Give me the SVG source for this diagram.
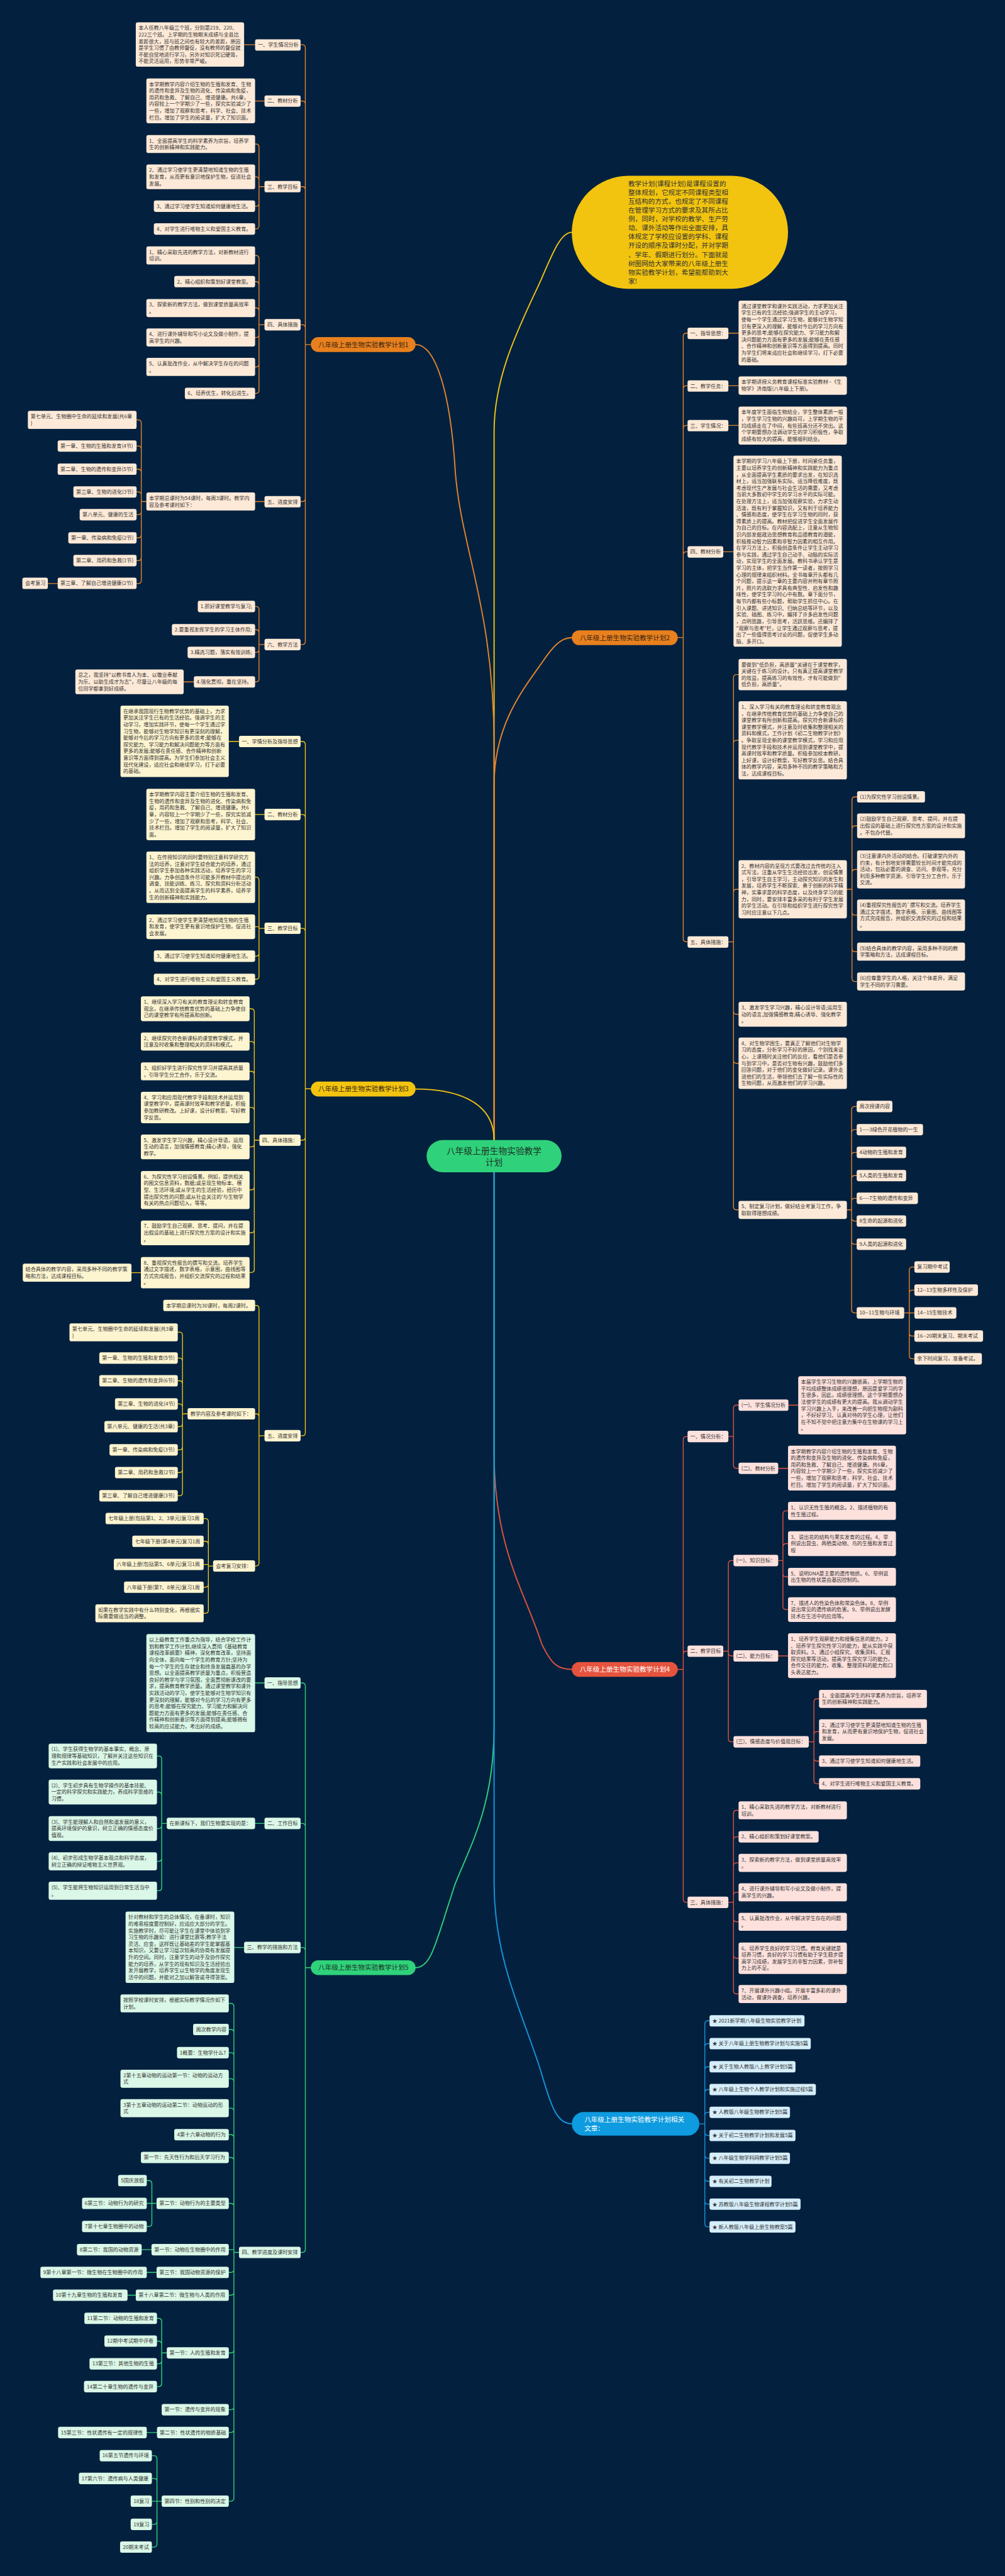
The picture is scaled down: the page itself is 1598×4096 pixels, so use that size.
<svg xmlns="http://www.w3.org/2000/svg" width="1598" height="4096" viewBox="0 0 1598 4096">
<style>
text{font-family:"Noto Sans CJK SC","Noto Sans",sans-serif;font-size:13px;fill:#333}
.lo{fill:#fde9d7}.ly{fill:#fdf4d0}.lg{fill:#daf7e7}.lr{fill:#fde1dd}.lb{fill:#d6eefa}
.c{fill:none;stroke-linecap:round;stroke-linejoin:round}
.co{stroke:#e8862b}.cy{stroke:#f2c512}.cg{stroke:#33d27b}.cr{stroke:#e5533d}.cb{stroke:#1697e0}
.w3{stroke-width:3}.w2{stroke-width:2.2}
.bt{font-size:17px;fill:#3a2613}.wt{font-size:17px;fill:#fff}
</style>
<rect width="1598" height="4096" fill="#03213f"/>
<g transform="scale(0.624)">
<g id="connectors">
<path class="c cy w3" d="M1259,2905L1259,1100C1259,950 1330,820 1380,710C1410,640 1430,592 1457,592"/>
<path class="c co w3" d="M1259,2905L1259,1900C1259,1550 1175,1400 1160,1200C1148,1000 1110,878 1059,878"/>
<path class="c co w3" d="M1259,2905L1259,2000C1259,1850 1330,1760 1380,1690C1410,1645 1430,1625 1457,1625"/>
<path class="c cy w3" d="M1259,2905C1259,2800 1150,2775 1059,2775"/>
<path class="c cr w3" d="M1259,2987L1259,3700C1259,3950 1340,4060 1380,4188C1405,4240 1420,4254 1457,4254"/>
<path class="c cg w3" d="M1259,2987L1259,4400C1259,4600 1200,4700 1160,4800C1110,4950 1100,5014 1059,5014"/>
<path class="c cb w3" d="M1259,2987L1259,4800C1259,5000 1340,5150 1380,5284C1405,5370 1420,5412 1457,5412"/>
<path class="c co w2" d="M792,878H778V122Q778,114 770,114H766M792,878H778V265.5Q778,257.5 770,257.5H766M792,878H778V483.5Q778,475.5 770,475.5H766M792,878H778V835.5Q778,827.5 770,827.5H766M792,878H778V1270Q778,1278 770,1278H766M792,878H778V1634.5Q778,1642.5 770,1642.5H766"/>
<path class="c co w2" d="M650,114H622M674,257.5H650M674,475.5H660V375Q660,367 652,367H650M674,475.5H660V458.5Q660,450.5 652,450.5H650M674,475.5H660V517.5Q660,525.5 652,525.5H650M674,475.5H660V575.5Q660,583.5 652,583.5H650M674,827.5H660V659Q660,651 652,651H650M674,827.5H660V725.5Q660,717.5 652,717.5H650M674,827.5H660V792.5Q660,784.5 652,784.5H650M674,827.5H660V852Q660,860 652,860H650M674,827.5H660V927Q660,935 652,935H650M674,827.5H660V994.5Q660,1002.5 652,1002.5H650M674,1278H650M373,1278H360V1078Q360,1070 352,1070H348M373,1278H360V1144.5Q360,1136.5 352,1136.5H348M373,1278H360V1203.5Q360,1195.5 352,1195.5H348M373,1278H360V1261.5Q360,1253.5 352,1253.5H348M373,1278H360V1303.5Q360,1311.5 352,1311.5H348M373,1278H360V1362.5Q360,1370.5 352,1370.5H348M373,1278H360V1420.5Q360,1428.5 352,1428.5H348M373,1278H360V1479Q360,1487 352,1487H348M147,1487H122M674,1642.5H660V1553.5Q660,1545.5 652,1545.5H650M674,1642.5H660V1612.5Q660,1604.5 652,1604.5H650M674,1642.5H660V1654.5Q660,1662.5 652,1662.5H650M674,1642.5H660V1729.5Q660,1737.5 652,1737.5H650M494,1737.5H468"/>
<path class="c cy w2" d="M792,2774.5H778V1897.5Q778,1889.5 770,1889.5H766M792,2774.5H778V2083.5Q778,2075.5 770,2075.5H766M792,2774.5H778V2373.5Q778,2365.5 770,2365.5H766M792,2774.5H778V2897.5Q778,2905.5 770,2905.5H766M792,2774.5H778V3650.5Q778,3658.5 770,3658.5H766"/>
<path class="c cy w2" d="M609,1889.5H583M674,2075.5H650M674,2365.5H660V2243Q660,2235 652,2235H650M674,2365.5H660V2361.5H650M674,2365.5H660V2428.5Q660,2436.5 652,2436.5H650M674,2365.5H660V2487.5Q660,2495.5 652,2495.5H650M661,2905.5H648V2578.5Q648,2570.5 640,2570.5H636M661,2905.5H648V2662Q648,2654 640,2654H636M661,2905.5H648V2738Q648,2730 640,2730H636M661,2905.5H648V2830Q648,2822 640,2822H636M661,2905.5H648V2914.5Q648,2922.5 640,2922.5H636M661,2905.5H648V3024Q648,3032 640,3032H636M661,2905.5H648V3133.5Q648,3141.5 640,3141.5H636M661,2905.5H648V3234.5Q648,3242.5 640,3242.5H636M359,3243H335M674,3658.5H660V3334.5Q660,3326.5 652,3326.5H650M674,3658.5H660V3610.5Q660,3602.5 652,3602.5H650M674,3658.5H660V3982.5Q660,3990.5 652,3990.5H650M478,3602.5H465V3402.5Q465,3394.5 457,3394.5H453M478,3602.5H465V3468.5Q465,3460.5 457,3460.5H453M478,3602.5H465V3526.5Q465,3518.5 457,3518.5H453M478,3602.5H465V3585.5Q465,3577.5 457,3577.5H453M478,3602.5H465V3627.5Q465,3635.5 457,3635.5H453M478,3602.5H465V3686.5Q465,3694.5 457,3694.5H453M478,3602.5H465V3744.5Q465,3752.5 457,3752.5H453M478,3602.5H465V3803.5Q465,3811.5 457,3811.5H453M543,3990.5H531V3877.5Q531,3869.5 523,3869.5H519M543,3990.5H531V3935.5Q531,3927.5 523,3927.5H519M543,3990.5H531V3986.5H519M543,3990.5H531V4036.5Q531,4044.5 523,4044.5H519M543,3990.5H531V4103Q531,4111 523,4111H519"/>
<path class="c cg w2" d="M792,5014H778V4296.5Q778,4288.5 770,4288.5H766M792,5014H778V4654.5Q778,4646.5 770,4646.5H766M792,5014H778V4970.5Q778,4962.5 770,4962.5H766M792,5014H778V5731.5Q778,5739.5 770,5739.5H766"/>
<path class="c cg w2" d="M674,4288.5H650M674,4646.5H650M425,4646.5H412V4482.5Q412,4474.5 404,4474.5H400M425,4646.5H412V4574.5Q412,4566.5 404,4566.5H400M425,4646.5H412V4651.5Q412,4659.5 404,4659.5H400M425,4646.5H412V4735Q412,4743 404,4743H400M425,4646.5H412V4810Q412,4818 404,4818H400M622,4962.5H597M609,5739.5H596V5113Q596,5105 588,5105H583M609,5739.5H596V5179.5Q596,5171.5 588,5171.5H583M609,5739.5H596V5238.5Q596,5230.5 588,5230.5H583M609,5739.5H596V5305Q596,5297 588,5297H583M609,5739.5H596V5380Q596,5372 588,5372H583M609,5739.5H596V5447.5Q596,5439.5 588,5439.5H583M609,5739.5H596V5505.5Q596,5497.5 588,5497.5H583M609,5739.5H596V5622.5Q596,5614.5 588,5614.5H583M609,5739.5H596V5732.5H583M609,5739.5H596V5782.5Q596,5790.5 588,5790.5H583M609,5739.5H596V5840.5Q596,5848.5 588,5848.5H583M609,5739.5H596V5987.5Q596,5995.5 588,5995.5H583M609,5739.5H596V6132.5Q596,6140.5 588,6140.5H583M609,5739.5H596V6190.5Q596,6198.5 588,6198.5H583M609,5739.5H596V6365.5Q596,6373.5 588,6373.5H583M399,5614.5H387V5564.5Q387,5556.5 379,5556.5H374M399,5614.5H374M399,5614.5H387V5665.5Q387,5673.5 379,5673.5H374M386,5732.5H361M399,5790.5H374M346,5848.5H325M425,5995.5H412V5915.5Q412,5907.5 404,5907.5H400M425,5995.5H412V5973.5Q412,5965.5 404,5965.5H400M425,5995.5H412V6015.5Q412,6023.5 404,6023.5H400M425,5995.5H412V6073.5Q412,6081.5 404,6081.5H400M400,6198.5H374M412,6373.5H400V6265.5Q400,6257.5 392,6257.5H387M412,6373.5H400V6323.5Q400,6315.5 392,6315.5H387M412,6373.5H387M412,6373.5H400V6424.5Q400,6432.5 392,6432.5H387M412,6373.5H400V6482.5Q400,6490.5 392,6490.5H387"/>
<path class="c co w2" d="M1727,1624.5H1741V857Q1741,849 1749,849H1752M1727,1624.5H1741V991Q1741,983 1749,983H1752M1727,1624.5H1741V1092Q1741,1084 1749,1084H1752M1727,1624.5H1741V1414Q1741,1406 1749,1406H1752M1727,1624.5H1741V2392Q1741,2400 1749,2400H1752"/>
<path class="c co w2" d="M1856,849H1882M1856,983H1882M1856,1084H1882M1843,1406H1869M1856,2400H1869V1727Q1869,1719 1877,1719H1882M1856,2400H1869V1894.5Q1869,1886.5 1877,1886.5H1882M1856,2400H1869V2274Q1869,2266 1877,2266H1882M1856,2400H1869V2576.5Q1869,2584.5 1877,2584.5H1882M1856,2400H1869V2701.5Q1869,2709.5 1877,2709.5H1882M1856,2400H1869V3075Q1869,3083 1877,3083H1882M2158,2266H2171V2038.5Q2171,2030.5 2179,2030.5H2184M2158,2266H2171V2112.5Q2171,2104.5 2179,2104.5H2184M2158,2266H2171V2223.5Q2171,2215.5 2179,2215.5H2184M2158,2266H2171V2324Q2171,2332 2179,2332H2184M2158,2266H2171V2417Q2171,2425 2179,2425H2184M2158,2266H2171V2493Q2171,2501 2179,2501H2184M2158,3083H2170V2827.5Q2170,2819.5 2178,2819.5H2183M2158,3083H2170V2886.5Q2170,2878.5 2178,2878.5H2183M2158,3083H2170V2944.5Q2170,2936.5 2178,2936.5H2183M2158,3083H2170V3003.5Q2170,2995.5 2178,2995.5H2183M2158,3083H2170V3061.5Q2170,3053.5 2178,3053.5H2183M2158,3083H2170V3103.5Q2170,3111.5 2178,3111.5H2183M2158,3083H2170V3162.5Q2170,3170.5 2178,3170.5H2183M2158,3083H2170V3337.5Q2170,3345.5 2178,3345.5H2183M2304,3345.5H2317V3236.5Q2317,3228.5 2325,3228.5H2330M2304,3345.5H2317V3295.5Q2317,3287.5 2325,3287.5H2330M2304,3345.5H2330M2304,3345.5H2317V3396.5Q2317,3404.5 2325,3404.5H2330M2304,3345.5H2317V3454.5Q2317,3462.5 2325,3462.5H2330"/>
<path class="c cr w2" d="M1727,4254H1741V3668.5Q1741,3660.5 1749,3660.5H1752M1727,4254H1741V4215.5Q1741,4207.5 1749,4207.5H1752M1727,4254H1741V4839.5Q1741,4847.5 1749,4847.5H1752"/>
<path class="c cr w2" d="M1856,3660.5H1869V3588.5Q1869,3580.5 1877,3580.5H1882M1856,3660.5H1869V3733.5Q1869,3741.5 1877,3741.5H1882M2009,3580.5H2034M1983,3741.5H2008M1843,4207.5H1856V3984.5Q1856,3976.5 1864,3976.5H1869M1843,4207.5H1856V4211.5Q1856,4219.5 1864,4219.5H1869M1843,4207.5H1856V4430.5Q1856,4438.5 1864,4438.5H1869M1983,3976.5H1995V3858Q1995,3850 2003,3850H2008M1983,3976.5H1995V3941.5Q1995,3933.5 2003,3933.5H2008M1983,3976.5H1995V4010Q1995,4018 2003,4018H2008M1983,3976.5H1995V4093.5Q1995,4101.5 2003,4101.5H2008M1983,4219.5H2008M2061,4438.5H2074V4337Q2074,4329 2082,4329H2087M2061,4438.5H2074V4420.5Q2074,4412.5 2082,4412.5H2087M2061,4438.5H2074V4479.5Q2074,4487.5 2082,4487.5H2087M2061,4438.5H2074V4537.5Q2074,4545.5 2082,4545.5H2087M1856,4847.5H1869V4621Q1869,4613 1877,4613H1882M1856,4847.5H1869V4688.5Q1869,4680.5 1877,4680.5H1882M1856,4847.5H1869V4755Q1869,4747 1877,4747H1882M1856,4847.5H1869V4830Q1869,4822 1877,4822H1882M1856,4847.5H1869V4889Q1869,4897 1877,4897H1882M1856,4847.5H1869V4982Q1869,4990 1877,4990H1882M1856,4847.5H1869V5073Q1869,5081 1877,5081H1882"/>
<path class="c cb w2" d="M1782,5412H1796V5157.5Q1796,5149.5 1804,5149.5H1808M1782,5412H1796V5215.5Q1796,5207.5 1804,5207.5H1808M1782,5412H1796V5274.5Q1796,5266.5 1804,5266.5H1808M1782,5412H1796V5332.5Q1796,5324.5 1804,5324.5H1808M1782,5412H1796V5390.5Q1796,5382.5 1804,5382.5H1808M1782,5412H1796V5433.5Q1796,5441.5 1804,5441.5H1808M1782,5412H1796V5491.5Q1796,5499.5 1804,5499.5H1808M1782,5412H1796V5550.5Q1796,5558.5 1804,5558.5H1808M1782,5412H1796V5608.5Q1796,5616.5 1804,5616.5H1808M1782,5412H1796V5666.5Q1796,5674.5 1804,5674.5H1808"/>
</g>

<g id="root"><rect x="1087" y="2905" width="344" height="82" rx="41" fill="#2fd27a"/><text x="1259" y="2940" text-anchor="middle" style="font-size:22px;fill:#1e3326">八年级上册生物实验教学<tspan x="1259" dy="29">计划</tspan></text></g>

<g id="intro"><rect x="1457" y="448" width="551" height="288" rx="144" fill="#f2c40f"/><text x="1601" y="474" style="font-size:17px;fill:#333">教学计划(课程计划)是课程设置的<tspan x="1601" dy="22.6">整体规划，它规定不同课程类型相</tspan><tspan x="1601" dy="22.6">互结构的方式，也规定了不同课程</tspan><tspan x="1601" dy="22.6">在管理学习方式的要求及其所占比</tspan><tspan x="1601" dy="22.6">例，同时，对学校的教学、生产劳</tspan><tspan x="1601" dy="22.6">动、课外活动等作出全面安排，具</tspan><tspan x="1601" dy="22.6">体规定了学校应设置的学科、课程</tspan><tspan x="1601" dy="22.6">开设的顺序及课时分配，并对学期</tspan><tspan x="1601" dy="22.6">、学年、假期进行划分。下面就是</tspan><tspan x="1601" dy="22.6">树图网给大家带来的八年级上册生</tspan><tspan x="1601" dy="22.6">物实验教学计划，希望能帮助到大</tspan><tspan x="1601" dy="22.6">家!</tspan></text></g>

<g id="b1"><rect x="792" y="859" width="267" height="38" rx="19" fill="#e8801e"/><text class="bt" x="811" y="884">八年级上册生物实验教学计划1</text></g>
<g id="b1-1"><rect class="lo" x="650" y="100" width="116" height="29" rx="5"/><text x="657" y="119">一、学生情况分析</text></g>
<g id="b1-1a"><rect class="lo" x="346" y="57" width="276" height="113" rx="5"/><text x="353" y="76">本人任教八年级三个班，分别是219、220、<tspan x="353" dy="17">222三个班。上学期的生物期末成绩与全县比</tspan><tspan x="353" dy="17">差距很大，班与班之间也有较大的差距，原因</tspan><tspan x="353" dy="17">是学生习惯了由教师督促，没有教师的督促就</tspan><tspan x="353" dy="17">不能自觉地进行学习，另外对知识死记硬背，</tspan><tspan x="353" dy="17">不能灵活运用，形势非常严峻。</tspan></text></g>
<g id="b1-2"><rect class="lo" x="674" y="243" width="92" height="29" rx="5"/><text x="681" y="262">二、教材分析</text></g>
<g id="b1-2a"><rect class="lo" x="373" y="200" width="277" height="114" rx="5"/><text x="380" y="219">本学期教学内容介绍生物的生殖和发育、生物<tspan x="380" dy="17">的遗传和变异及生物的进化、传染病和免疫，</tspan><tspan x="380" dy="17">用药和急救、了解自己、增进健康。共6章，</tspan><tspan x="380" dy="17">内容较上一个学期少了一些，探究实验减少了</tspan><tspan x="380" dy="17">一些，增加了观察和思考，科学、社会、技术</tspan><tspan x="380" dy="17">栏目。增加了学生的阅读量，扩大了知识面。</tspan></text></g>
<g id="b1-3"><rect class="lo" x="674" y="461" width="92" height="29" rx="5"/><text x="681" y="480">三、教学目标</text></g>
<g id="b1-3a"><rect class="lo" x="373" y="344" width="277" height="46" rx="5"/><text x="380" y="363">1、全面提高学生的科学素养为宗旨，培养学<tspan x="380" dy="17">生的创新精神和实践能力。</tspan></text></g>
<g id="b1-3b"><rect class="lo" x="373" y="419" width="277" height="63" rx="5"/><text x="380" y="438">2、通过学习使学生更清楚地知道生物的生殖<tspan x="380" dy="17">和发育，从而更有意识地保护生物，促进社会</tspan><tspan x="380" dy="17">发展。</tspan></text></g>
<g id="b1-3c"><rect class="lo" x="392" y="511" width="258" height="29" rx="5"/><text x="399" y="530">3、通过学习使学生知道如何健康地生活。</text></g>
<g id="b1-3d"><rect class="lo" x="392" y="569" width="258" height="29" rx="5"/><text x="399" y="588">4、对学生进行唯物主义和爱国主义教育。</text></g>
<g id="b1-4"><rect class="lo" x="674" y="813" width="92" height="29" rx="5"/><text x="681" y="832">四、具体措施</text></g>
<g id="b1-4a"><rect class="lo" x="373" y="628" width="277" height="46" rx="5"/><text x="380" y="647">1、精心采取先进的教学方法，对新教材进行<tspan x="380" dy="17">培训。</tspan></text></g>
<g id="b1-4b"><rect class="lo" x="444" y="703" width="206" height="29" rx="5"/><text x="451" y="722">2、精心组织和策划好课堂教案。</text></g>
<g id="b1-4c"><rect class="lo" x="373" y="762" width="277" height="46" rx="5"/><text x="380" y="781">3、探索新的教学方法，做到课堂质量高效率<tspan x="380" dy="17">。</tspan></text></g>
<g id="b1-4d"><rect class="lo" x="373" y="837" width="277" height="46" rx="5"/><text x="380" y="856">4、进行课外辅导和写小论文及做小制作，提<tspan x="380" dy="17">高学生的兴趣。</tspan></text></g>
<g id="b1-4e"><rect class="lo" x="373" y="912" width="277" height="46" rx="5"/><text x="380" y="931">5、认真批改作业，从中解决学生存在的问题<tspan x="380" dy="17">。</tspan></text></g>
<g id="b1-4f"><rect class="lo" x="471" y="988" width="179" height="29" rx="5"/><text x="478" y="1007">6、培养优生，转化后进生。</text></g>
<g id="b1-5"><rect class="lo" x="674" y="1264" width="92" height="29" rx="5"/><text x="681" y="1283">五、进度安排</text></g>
<g id="b1-5a"><rect class="lo" x="373" y="1255" width="277" height="46" rx="5"/><text x="380" y="1274">本学期总课时为54课时，每周3课时。教学内<tspan x="380" dy="17">容及参考课时如下：</tspan></text></g>
<g id="b1-5a1"><rect class="lo" x="71" y="1047" width="277" height="46" rx="5"/><text x="78" y="1066">第七单元、生物圈中生命的延续和发展(共6章<tspan x="78" dy="17">)</tspan></text></g>
<g id="b1-5a2"><rect class="lo" x="147" y="1122" width="201" height="29" rx="5"/><text x="154" y="1141">第一章、生物的生殖和发育(4节)</text></g>
<g id="b1-5a3"><rect class="lo" x="147" y="1181" width="201" height="29" rx="5"/><text x="154" y="1200">第二章、生物的遗传和变异(5节)</text></g>
<g id="b1-5a4"><rect class="lo" x="187" y="1239" width="161" height="29" rx="5"/><text x="194" y="1258">第三章、生物的进化(3节)</text></g>
<g id="b1-5a5"><rect class="lo" x="203" y="1297" width="145" height="29" rx="5"/><text x="210" y="1316">第八单元、健康的生活</text></g>
<g id="b1-5a6"><rect class="lo" x="174" y="1356" width="174" height="29" rx="5"/><text x="181" y="1375">第一章、传染病和免疫(2节)</text></g>
<g id="b1-5a7"><rect class="lo" x="187" y="1414" width="161" height="29" rx="5"/><text x="194" y="1433">第二章、用药和急救(1节)</text></g>
<g id="b1-5a8"><rect class="lo" x="147" y="1472" width="201" height="29" rx="5"/><text x="154" y="1491">第三章、了解自己增进健康(2节)</text></g>
<g id="b1-5a9"><rect class="lo" x="57" y="1472" width="65" height="29" rx="5"/><text x="64" y="1491">会考复习</text></g>
<g id="b1-6"><rect class="lo" x="674" y="1628" width="92" height="29" rx="5"/><text x="681" y="1647">六、教学方法</text></g>
<g id="b1-6a"><rect class="lo" x="504" y="1531" width="146" height="29" rx="5"/><text x="511" y="1550">1.抓好课堂教学与复习;</text></g>
<g id="b1-6b"><rect class="lo" x="438" y="1590" width="212" height="29" rx="5"/><text x="445" y="1609">2.要重视发挥学生的学习主体作用;</text></g>
<g id="b1-6c"><rect class="lo" x="478" y="1648" width="172" height="29" rx="5"/><text x="485" y="1667">3.精选习题，落实有效训练;</text></g>
<g id="b1-6d"><rect class="lo" x="494" y="1723" width="156" height="29" rx="5"/><text x="501" y="1742">4.强化贯彻，重在坚持。</text></g>
<g id="b1-6e"><rect class="lo" x="192" y="1706" width="276" height="63" rx="5"/><text x="199" y="1725">总之，我坚持"以教书育人为本、以敬业奉献<tspan x="199" dy="17">为乐、以助生成才为志"，尽量让八年级的每</tspan><tspan x="199" dy="17">位同学都拿到好成绩。</tspan></text></g>

<g id="b3"><rect x="792" y="2756" width="267" height="38" rx="19" fill="#f2c40f"/><text class="bt" x="811" y="2781">八年级上册生物实验教学计划3</text></g>
<g id="b3-1"><rect class="ly" x="609" y="1875" width="157" height="29" rx="5"/><text x="616" y="1894">一、学情分析及指导思想</text></g>
<g id="b3-1a"><rect class="ly" x="307" y="1798" width="276" height="182" rx="5"/><text x="314" y="1817">在继承我国现行生物教学优势的基础上，力求<tspan x="314" dy="17">更加关注学生已有的生活经验。强调学生的主</tspan><tspan x="314" dy="17">动学习，增加实践环节，使每一个学生通过学</tspan><tspan x="314" dy="17">习生物，能够对生物学知识有更深刻的理解，</tspan><tspan x="314" dy="17">能够对今后的学习方向有更多的思考;能够在</tspan><tspan x="314" dy="17">探究能力、学习能力和解决问题能力等方面有</tspan><tspan x="314" dy="17">更多的发展;能够在责任感、合作精神和创新</tspan><tspan x="314" dy="17">意识等方面得到提高。为学生们参加社会主义</tspan><tspan x="314" dy="17">现代化建设，适应社会和继续学习，打下必要</tspan><tspan x="314" dy="17">的基础。</tspan></text></g>
<g id="b3-2"><rect class="ly" x="674" y="2061" width="92" height="29" rx="5"/><text x="681" y="2080">二、教材分析</text></g>
<g id="b3-2a"><rect class="ly" x="373" y="2010" width="277" height="131" rx="5"/><text x="380" y="2029">本学期教学内容主要介绍生物的生殖和发育、<tspan x="380" dy="17">生物的遗传和变异及生物的进化、传染病和免</tspan><tspan x="380" dy="17">疫，用药和急救、了解自己、增进健康。共6</tspan><tspan x="380" dy="17">章，内容较上一个学期少了一些，探究实验减</tspan><tspan x="380" dy="17">少了一些，增加了观察和思考，科学、社会、</tspan><tspan x="380" dy="17">技术栏目。增加了学生的阅读量，扩大了知识</tspan><tspan x="380" dy="17">面。</tspan></text></g>
<g id="b3-3"><rect class="ly" x="674" y="2351" width="92" height="29" rx="5"/><text x="681" y="2370">三、教学目标</text></g>
<g id="b3-3a"><rect class="ly" x="373" y="2170" width="277" height="131" rx="5"/><text x="380" y="2189">1、在传授知识的同时要特别注意科学研究方<tspan x="380" dy="17">法的培养，注意对学生综合能力的培养，通过</tspan><tspan x="380" dy="17">组织学生参加各种实践活动，培养学生的学习</tspan><tspan x="380" dy="17">兴趣。力争创造条件尽可能多开教材中提出的</tspan><tspan x="380" dy="17">调查、技能训练、练习、探究和资料分析活动</tspan><tspan x="380" dy="17">。从而达到全面提高学生的科学素养，培养学</tspan><tspan x="380" dy="17">生的创新精神和实践能力。</tspan></text></g>
<g id="b3-3b"><rect class="ly" x="373" y="2330" width="277" height="63" rx="5"/><text x="380" y="2349">2、通过学习使学生更清楚地知道生物的生殖<tspan x="380" dy="17">和发育，使学生更有意识地保护生物，促进社</tspan><tspan x="380" dy="17">会发展。</tspan></text></g>
<g id="b3-3c"><rect class="ly" x="392" y="2422" width="258" height="29" rx="5"/><text x="399" y="2441">3、通过学习使学生知道如何健康地生活。</text></g>
<g id="b3-3d"><rect class="ly" x="392" y="2481" width="258" height="29" rx="5"/><text x="399" y="2500">4、对学生进行唯物主义和爱国主义教育。</text></g>
<g id="b3-4"><rect class="ly" x="661" y="2891" width="105" height="29" rx="5"/><text x="668" y="2910">四、具体措施：</text></g>
<g id="b3-4a"><rect class="ly" x="359" y="2539" width="277" height="63" rx="5"/><text x="366" y="2558">1、继续深入学习有关的教育理论和转变教育<tspan x="366" dy="17">观念，在继承传统教育优势的基础上力争使自</tspan><tspan x="366" dy="17">己的课堂教学有所提高和创新。</tspan></text></g>
<g id="b3-4b"><rect class="ly" x="359" y="2631" width="277" height="46" rx="5"/><text x="366" y="2650">2、继续探究符合新课标的课堂教学模式，并<tspan x="366" dy="17">注意及时收集和整理相关的资料和模式。</tspan></text></g>
<g id="b3-4c"><rect class="ly" x="359" y="2707" width="277" height="46" rx="5"/><text x="366" y="2726">3、组织好学生进行探究性学习并提高其质量<tspan x="366" dy="17">，引导学生分工合作，乐于交流。</tspan></text></g>
<g id="b3-4d"><rect class="ly" x="359" y="2782" width="277" height="80" rx="5"/><text x="366" y="2801">4、学习和应用现代教学手段和技术并运用到<tspan x="366" dy="17">课堂教学中，提高课时效率和教学质量，积极</tspan><tspan x="366" dy="17">参加教研教改。上好课，设计好教案，写好教</tspan><tspan x="366" dy="17">学反思。</tspan></text></g>
<g id="b3-4e"><rect class="ly" x="359" y="2891" width="277" height="63" rx="5"/><text x="366" y="2910">5、激发学生学习兴趣，精心设计导语，运用<tspan x="366" dy="17">生动的语言，加强情感教育;精心诱导，强化</tspan><tspan x="366" dy="17">教学。</tspan></text></g>
<g id="b3-4f"><rect class="ly" x="359" y="2984" width="277" height="97" rx="5"/><text x="366" y="3003">6、为探究性学习创设情景。例如，提供相关<tspan x="366" dy="17">的图文信息资料，数据;或呈现生物标本、模</tspan><tspan x="366" dy="17">型、生活环境;或从学生的生活经验，经历中</tspan><tspan x="366" dy="17">提出探究性的问题;或从社会关注的'与生物学</tspan><tspan x="366" dy="17">有关的热点问题切入，等等。</tspan></text></g>
<g id="b3-4g"><rect class="ly" x="359" y="3110" width="277" height="63" rx="5"/><text x="366" y="3129">7、鼓励学生自己观察、思考、提问，并在提<tspan x="366" dy="17">出假设的基础上进行探究性方案的设计和实施</tspan><tspan x="366" dy="17">。</tspan></text></g>
<g id="b3-4h"><rect class="ly" x="359" y="3203" width="277" height="80" rx="5"/><text x="366" y="3222">8、重视探究性报告的撰写和交流。培养学生<tspan x="366" dy="17">通过文字描述，数字表格，示意图，曲线图等</tspan><tspan x="366" dy="17">方式完成报告，并组织交流探究的过程和结果</tspan><tspan x="366" dy="17">。</tspan></text></g>
<g id="b3-4i"><rect class="ly" x="58" y="3220" width="277" height="46" rx="5"/><text x="65" y="3239">结合具体的教学内容，采用多种不同的教学策<tspan x="65" dy="17">略和方法，达成课程目标。</tspan></text></g>
<g id="b3-5"><rect class="ly" x="674" y="3644" width="92" height="29" rx="5"/><text x="681" y="3663">五、进度安排</text></g>
<g id="b3-5a"><rect class="ly" x="416" y="3312" width="234" height="29" rx="5"/><text x="423" y="3331">本学期总课时为30课时，每周2课时。</text></g>
<g id="b3-5b"><rect class="ly" x="478" y="3588" width="172" height="29" rx="5"/><text x="485" y="3607">教学内容及参考课时如下：</text></g>
<g id="b3-5b1"><rect class="ly" x="177" y="3372" width="276" height="46" rx="5"/><text x="184" y="3391">第七单元、生物圈中生命的延续和发展(共3章<tspan x="184" dy="17">)</tspan></text></g>
<g id="b3-5b2"><rect class="ly" x="253" y="3446" width="200" height="29" rx="5"/><text x="260" y="3465">第一章、生物的生殖和发育(5节)</text></g>
<g id="b3-5b3"><rect class="ly" x="253" y="3504" width="200" height="29" rx="5"/><text x="260" y="3523">第二章、生物的遗传和变异(6节)</text></g>
<g id="b3-5b4"><rect class="ly" x="293" y="3563" width="160" height="29" rx="5"/><text x="300" y="3582">第三章、生物的进化(4节)</text></g>
<g id="b3-5b5"><rect class="ly" x="266" y="3621" width="187" height="29" rx="5"/><text x="273" y="3640">第八单元、健康的生活(共3章)</text></g>
<g id="b3-5b6"><rect class="ly" x="279" y="3680" width="174" height="29" rx="5"/><text x="286" y="3699">第一章、传染病和免疫(3节)</text></g>
<g id="b3-5b7"><rect class="ly" x="293" y="3738" width="160" height="29" rx="5"/><text x="300" y="3757">第二章、用药和急救(2节)</text></g>
<g id="b3-5b8"><rect class="ly" x="253" y="3797" width="200" height="29" rx="5"/><text x="260" y="3816">第三章、了解自己增进健康(3节)</text></g>
<g id="b3-5c"><rect class="ly" x="543" y="3976" width="107" height="29" rx="5"/><text x="550" y="3995">会考复习安排：</text></g>
<g id="b3-5c1"><rect class="ly" x="269" y="3855" width="250" height="29" rx="5"/><text x="276" y="3874">七年级上册(包括第1、2、3单元)复习1周</text></g>
<g id="b3-5c2"><rect class="ly" x="337" y="3913" width="182" height="29" rx="5"/><text x="344" y="3932">七年级下册(第4单元)复习1周</text></g>
<g id="b3-5c3"><rect class="ly" x="290" y="3972" width="229" height="29" rx="5"/><text x="297" y="3991">八年级上册(包括第5、6单元)复习1周</text></g>
<g id="b3-5c4"><rect class="ly" x="316" y="4030" width="203" height="29" rx="5"/><text x="323" y="4049">八年级下册(第7、8单元)复习1周</text></g>
<g id="b3-5c5"><rect class="ly" x="243" y="4088" width="276" height="46" rx="5"/><text x="250" y="4107">如果在教学实践中有什么特别变化，再根据实<tspan x="250" dy="17">际需要做适当的调整。</tspan></text></g>

<g id="b5"><rect x="792" y="4995" width="267" height="38" rx="19" fill="#2fd27a"/><text class="bt" x="811" y="5020" style="fill:#1e3326">八年级上册生物实验教学计划5</text></g>
<g id="b5-1"><rect class="lg" x="674" y="4274" width="92" height="29" rx="5"/><text x="681" y="4293">一、指导思想</text></g>
<g id="b5-1a"><rect class="lg" x="373" y="4164" width="277" height="250" rx="5"/><text x="380" y="4183">以上级教育工作重点为指导，结合学校工作计<tspan x="380" dy="17">划和教学工作计划,继续深入贯彻《基础教育</tspan><tspan x="380" dy="17">课程改革纲要》精神，深化教育改革，坚持面</tspan><tspan x="380" dy="17">向全体，面向每一个学生的教育方针;坚持为</tspan><tspan x="380" dy="17">每一个学生的生存就业和终身发展奠基的办学</tspan><tspan x="380" dy="17">思想。以全面提高教学质量为重点，积极营造</tspan><tspan x="380" dy="17">良好的教学与学习氛围，全面贯彻新课改的要</tspan><tspan x="380" dy="17">求，提高教育教学质量。通过课堂教学和课外</tspan><tspan x="380" dy="17">实践活动的学习，使学生能够对生物学知识有</tspan><tspan x="380" dy="17">更深刻的理解，能够对今后的学习方向有更多</tspan><tspan x="380" dy="17">的思考;能够在探究能力、学习能力和解决问</tspan><tspan x="380" dy="17">题能力方面有更多的发展;能够在责任感、合</tspan><tspan x="380" dy="17">作精神和创新意识等方面得到提高;能够拥有</tspan><tspan x="380" dy="17">较高的应试能力，考出好的成绩。</tspan></text></g>
<g id="b5-2"><rect class="lg" x="674" y="4632" width="92" height="29" rx="5"/><text x="681" y="4651">二、工作目标</text></g>
<g id="b5-2a"><rect class="lg" x="425" y="4632" width="225" height="29" rx="5"/><text x="432" y="4651">在新课标下，我们生物要实现的是：</text></g>
<g id="b5-2a1"><rect class="lg" x="124" y="4443" width="276" height="63" rx="5"/><text x="131" y="4462">(1)、学生获得生物学的基本事实、概念、原<tspan x="131" dy="17">理和规律等基础知识，了解并关注这些知识在</tspan><tspan x="131" dy="17">生产实践和社会发展中的应用。</tspan></text></g>
<g id="b5-2a2"><rect class="lg" x="124" y="4535" width="276" height="63" rx="5"/><text x="131" y="4554">(2)、学生初步具有生物学操作的基本技能、<tspan x="131" dy="17">一定的科学探究和实践能力，养成科学思维的</tspan><tspan x="131" dy="17">习惯。</tspan></text></g>
<g id="b5-2a3"><rect class="lg" x="124" y="4628" width="276" height="63" rx="5"/><text x="131" y="4647">(3)、学生能理解人和自然和谐发展的意义，<tspan x="131" dy="17">提高环境保护的意识，树立正确的情感态度价</tspan><tspan x="131" dy="17">值观。</tspan></text></g>
<g id="b5-2a4"><rect class="lg" x="124" y="4720" width="276" height="46" rx="5"/><text x="131" y="4739">(4)、初步形成生物学基本观点和科学态度，<tspan x="131" dy="17">树立正确的辩证唯物主义世界观。</tspan></text></g>
<g id="b5-2a5"><rect class="lg" x="124" y="4795" width="276" height="46" rx="5"/><text x="131" y="4814">(5)、学生能将生物知识运用到日常生活当中<tspan x="131" dy="17">。</tspan></text></g>
<g id="b5-3"><rect class="lg" x="622" y="4948" width="144" height="29" rx="5"/><text x="629" y="4967">三、教学的措施和方法</text></g>
<g id="b5-3a"><rect class="lg" x="320" y="4871" width="277" height="182" rx="5"/><text x="327" y="4890">针对教材和学生的总体情况，在备课时，知识<tspan x="327" dy="17">的难易程度要控制好，应适应大部分的学生。</tspan><tspan x="327" dy="17">实施教学时，尽可能让学生在课堂中体验到学</tspan><tspan x="327" dy="17">习生物的乐趣如：进行课堂比赛等;教学手法</tspan><tspan x="327" dy="17">灵活、应变，这样既让基础差的学生能掌握基</tspan><tspan x="327" dy="17">本知识，又要让学习层次较高的协商有发展提</tspan><tspan x="327" dy="17">升的空间。同时，注意学生的动手及协作探究</tspan><tspan x="327" dy="17">能力的培养，从学生的现有知识及生活经验出</tspan><tspan x="327" dy="17">发开展教学，培养学生以生物学的角度发现生</tspan><tspan x="327" dy="17">活中的问题，并能对之加以解答或寻得答案。</tspan></text></g>
<g id="b5-4"><rect class="lg" x="609" y="5725" width="157" height="29" rx="5"/><text x="616" y="5744">四、教学进度及课时安排</text></g>
<g id="b5-4a"><rect class="lg" x="307" y="5082" width="276" height="46" rx="5"/><text x="314" y="5101">按照学校课时安排，根据实际教学情况作如下<tspan x="314" dy="17">计划。</tspan></text></g>
<g id="b5-4b"><rect class="lg" x="492" y="5157" width="91" height="29" rx="5"/><text x="499" y="5176">周次教学内容</text></g>
<g id="b5-4c"><rect class="lg" x="451" y="5216" width="132" height="29" rx="5"/><text x="458" y="5235">1概要：生物学什么?</text></g>
<g id="b5-4d"><rect class="lg" x="307" y="5274" width="276" height="46" rx="5"/><text x="314" y="5293">2第十五章动物的运动第一节：动物的运动方<tspan x="314" dy="17">式</tspan></text></g>
<g id="b5-4e"><rect class="lg" x="307" y="5349" width="276" height="46" rx="5"/><text x="314" y="5368">3第十五章动物的运动第二节：动物运动的形<tspan x="314" dy="17">式</tspan></text></g>
<g id="b5-4f"><rect class="lg" x="444" y="5425" width="139" height="29" rx="5"/><text x="451" y="5444">4第十六章动物的行为</text></g>
<g id="b5-4g"><rect class="lg" x="359" y="5483" width="224" height="29" rx="5"/><text x="366" y="5502">第一节：先天性行为和后天学习行为</text></g>
<g id="b5-4h"><rect class="lg" x="399" y="5600" width="184" height="29" rx="5"/><text x="406" y="5619">第二节：动物行为的主要类型</text></g>
<g id="b5-4h1"><rect class="lg" x="301" y="5542" width="73" height="29" rx="5"/><text x="308" y="5561">5国庆放假</text></g>
<g id="b5-4h2"><rect class="lg" x="209" y="5600" width="165" height="29" rx="5"/><text x="216" y="5619">6第三节：动物行为的研究</text></g>
<g id="b5-4h3"><rect class="lg" x="209" y="5659" width="165" height="29" rx="5"/><text x="216" y="5678">7第十七章生物圈中的动物</text></g>
<g id="b5-4i"><rect class="lg" x="386" y="5718" width="197" height="29" rx="5"/><text x="393" y="5737">第一节：动物在生物圈中的作用</text></g>
<g id="b5-4i1"><rect class="lg" x="196" y="5718" width="165" height="29" rx="5"/><text x="203" y="5737">8第二节：我国的动物资源</text></g>
<g id="b5-4j"><rect class="lg" x="399" y="5776" width="184" height="29" rx="5"/><text x="406" y="5795">第三节：我国动物资源的保护</text></g>
<g id="b5-4j1"><rect class="lg" x="103" y="5776" width="271" height="29" rx="5"/><text x="110" y="5795">9第十八章第一节：微生物在生物圈中的作用</text></g>
<g id="b5-4k"><rect class="lg" x="346" y="5834" width="237" height="29" rx="5"/><text x="353" y="5853">第十八章第二节：微生物与人类的作用</text></g>
<g id="b5-4k1"><rect class="lg" x="135" y="5834" width="190" height="29" rx="5"/><text x="142" y="5853">10第十九章生物的生殖和发育</text></g>
<g id="b5-4l"><rect class="lg" x="425" y="5981" width="158" height="29" rx="5"/><text x="432" y="6000">第一节：人的生殖和发育</text></g>
<g id="b5-4l1"><rect class="lg" x="215" y="5893" width="185" height="29" rx="5"/><text x="222" y="5912">11第二节：动物的生殖和发育</text></g>
<g id="b5-4l2"><rect class="lg" x="266" y="5951" width="134" height="29" rx="5"/><text x="273" y="5970">12期中考试期中评卷</text></g>
<g id="b5-4l3"><rect class="lg" x="228" y="6009" width="172" height="29" rx="5"/><text x="235" y="6028">13第三节：其他生物的生殖</text></g>
<g id="b5-4l4"><rect class="lg" x="214" y="6067" width="186" height="29" rx="5"/><text x="221" y="6086">14第二十章生物的遗传与变异</text></g>
<g id="b5-4m"><rect class="lg" x="412" y="6126" width="171" height="29" rx="5"/><text x="419" y="6145">第一节：遗传与变异的现象</text></g>
<g id="b5-4n"><rect class="lg" x="400" y="6184" width="183" height="29" rx="5"/><text x="407" y="6203">第二节：性状遗传的物质基础</text></g>
<g id="b5-4n1"><rect class="lg" x="148" y="6184" width="226" height="29" rx="5"/><text x="155" y="6203">15第三节：性状遗传有一定的规律性</text></g>
<g id="b5-4o"><rect class="lg" x="412" y="6359" width="171" height="29" rx="5"/><text x="419" y="6378">第四节：性别和性别的决定</text></g>
<g id="b5-4o1"><rect class="lg" x="254" y="6243" width="133" height="29" rx="5"/><text x="261" y="6262">16第五节遗传与环境</text></g>
<g id="b5-4o2"><rect class="lg" x="201" y="6301" width="186" height="29" rx="5"/><text x="208" y="6320">17第六节：遗传病与人类健康</text></g>
<g id="b5-4o3"><rect class="lg" x="333" y="6359" width="54" height="29" rx="5"/><text x="340" y="6378">18复习</text></g>
<g id="b5-4o4"><rect class="lg" x="333" y="6418" width="54" height="29" rx="5"/><text x="340" y="6437">19复习</text></g>
<g id="b5-4o5"><rect class="lg" x="306" y="6476" width="81" height="29" rx="5"/><text x="313" y="6495">20期末考试</text></g>

<g id="b2"><rect x="1457" y="1606" width="270" height="38" rx="19" fill="#e8801e"/><text class="bt" x="1477" y="1631">八年级上册生物实验教学计划2</text></g>
<g id="b2-1"><rect class="lo" x="1752" y="835" width="104" height="29" rx="5"/><text x="1759" y="854">一、指导思想：</text></g>
<g id="b2-1a"><rect class="lo" x="1882" y="766" width="276" height="165" rx="5"/><text x="1889" y="785">通过课堂教学和课外实践活动，力求更加关注<tspan x="1889" dy="17">学生已有的生活经验;强调学生的主动学习，</tspan><tspan x="1889" dy="17">使每一个学生通过学习生物，能够对生物学知</tspan><tspan x="1889" dy="17">识有更深入的理解，能够对今后的学习方向有</tspan><tspan x="1889" dy="17">更多的思考;能够在探究能力、学习能力和解</tspan><tspan x="1889" dy="17">决问题能力方面有更多的发展;能够在责任感</tspan><tspan x="1889" dy="17">、合作精神和创新意识等方面得到提高。同时</tspan><tspan x="1889" dy="17">为学生们将来适应社会和继续学习，打下必要</tspan><tspan x="1889" dy="17">的基础。</tspan></text></g>
<g id="b2-2"><rect class="lo" x="1752" y="969" width="104" height="29" rx="5"/><text x="1759" y="988">二、教学任务：</text></g>
<g id="b2-2a"><rect class="lo" x="1882" y="959" width="276" height="47" rx="5"/><text x="1889" y="978">本学期讲授义务教育课程标准实验教材--《生<tspan x="1889" dy="17">物学》济南版(八年级上下册)。</tspan></text></g>
<g id="b2-3"><rect class="lo" x="1752" y="1070" width="104" height="29" rx="5"/><text x="1759" y="1089">三、学生情况：</text></g>
<g id="b2-3a"><rect class="lo" x="1882" y="1036" width="276" height="97" rx="5"/><text x="1889" y="1055">本年度学生面临生物结业，学生整体素质一般<tspan x="1889" dy="17">，学生学习生物的兴趣尚可，上学期生物的平</tspan><tspan x="1889" dy="17">均成绩走在了中间，有些班高分还不突出。这</tspan><tspan x="1889" dy="17">个学期要想办法调动学生的学习积极性，争取</tspan><tspan x="1889" dy="17">成绩有较大的提高，能够顺利结业。</tspan></text></g>
<g id="b2-4"><rect class="lo" x="1752" y="1392" width="91" height="29" rx="5"/><text x="1759" y="1411">四、教材分析</text></g>
<g id="b2-4a"><rect class="lo" x="1869" y="1161" width="276" height="487" rx="5"/><text x="1876" y="1180">本学期的学习八年级上下册，时间紧任务重，<tspan x="1876" dy="17">主要以培养学生的创新精神和实践能力为重点</tspan><tspan x="1876" dy="17">，从全面提高学生素质的要求出发，在知识选</tspan><tspan x="1876" dy="17">材上，适当加强联系实际、适当降低难度，既</tspan><tspan x="1876" dy="17">考虑现代生产发展与社会生活的需要，又考虑</tspan><tspan x="1876" dy="17">当前大多数初中学生的学习水平的实际可能。</tspan><tspan x="1876" dy="17">在处理方法上，适当加强观察实验，力求生动</tspan><tspan x="1876" dy="17">活泼，既有利于掌握知识，又有利于培养能力</tspan><tspan x="1876" dy="17">、情感和态度，使学生在学习生物的同时，获</tspan><tspan x="1876" dy="17">得素质上的提高。教材把促进学生全面发展作</tspan><tspan x="1876" dy="17">为自己的目标。在内容选配上，注意从生物知</tspan><tspan x="1876" dy="17">识内部发掘政治思想教育和品德教育的潜能，</tspan><tspan x="1876" dy="17">积极推动智力因素和非智力因素的相互作用。</tspan><tspan x="1876" dy="17">在学习方法上，积极创造条件让学生主动学习</tspan><tspan x="1876" dy="17">参与实践，通过学生自己动手、动脑的实际活</tspan><tspan x="1876" dy="17">动，实现学生的全面发展。教科书承认学生是</tspan><tspan x="1876" dy="17">学习的主体，把学生当作第一读者，按照学习</tspan><tspan x="1876" dy="17">心理的规律来组织材料。全书每章开头都有几</tspan><tspan x="1876" dy="17">个问题，提示这一章的主要内容并附有章节照</tspan><tspan x="1876" dy="17">片，照片的选取力求具有典型性、启发性和趣</tspan><tspan x="1876" dy="17">味性，使学生学习时心中有数。章下面分节，</tspan><tspan x="1876" dy="17">每节内都有些小标题，帮助学生抓住中心。在</tspan><tspan x="1876" dy="17">引入课题、讲述知识、归纳总结等环节，以及</tspan><tspan x="1876" dy="17">实验、插图、练习中，编排了许多启发性问题</tspan><tspan x="1876" dy="17">，点明思路，引导思考，活跃思维。还编排了</tspan><tspan x="1876" dy="17">"观察与思考"栏，让学生通过观察与思考，提</tspan><tspan x="1876" dy="17">出了一些值得思考讨论的问题，促使学生多动</tspan><tspan x="1876" dy="17">脑、多开口。</tspan></text></g>
<g id="b2-5"><rect class="lo" x="1752" y="2386" width="104" height="29" rx="5"/><text x="1759" y="2405">五、具体措施：</text></g>
<g id="b2-5a"><rect class="lo" x="1882" y="1679" width="276" height="80" rx="5"/><text x="1889" y="1698">要做到"低负担，高质量"关键在于课堂教学，<tspan x="1889" dy="17">关键在于练习的设计。只有真正提高课堂教学</tspan><tspan x="1889" dy="17">的效益，提高练习的有效性，才有可能做到"</tspan><tspan x="1889" dy="17">低负担，高质量"。</tspan></text></g>
<g id="b2-5b"><rect class="lo" x="1882" y="1787" width="276" height="199" rx="5"/><text x="1889" y="1806">1、深入学习有关的教育理论和转变教育观念<tspan x="1889" dy="17">，在继承传统教育优势的基础上力争使自己的</tspan><tspan x="1889" dy="17">课堂教学有所创新和提高。探究符合新课标的</tspan><tspan x="1889" dy="17">课堂教学模式，并注意及时收集和整理相关的</tspan><tspan x="1889" dy="17">资料和模式，工作计划《初二生物教学计划》</tspan><tspan x="1889" dy="17">。争取呈现全新的课堂教学模式，学习和应用</tspan><tspan x="1889" dy="17">现代教学手段和技术并运用到课堂教学中，提</tspan><tspan x="1889" dy="17">高课时效率和教学质量。积极参加校本教研，</tspan><tspan x="1889" dy="17">上好课，设计好教案，写好教学反思。结合具</tspan><tspan x="1889" dy="17">体的教学内容，采用多种不同的教学策略和方</tspan><tspan x="1889" dy="17">法，达成课程目标。</tspan></text></g>
<g id="b2-5c"><rect class="lo" x="1882" y="2192" width="276" height="148" rx="5"/><text x="1889" y="2211">2、教材内容的呈现方式要改过去传统的注入<tspan x="1889" dy="17">式写法，注重从学生生活经验出发，创设情景</tspan><tspan x="1889" dy="17">，引导学生自主学习，主动探究知识的发生和</tspan><tspan x="1889" dy="17">发展，培养学生不断探索、勇于创新的科学精</tspan><tspan x="1889" dy="17">神，实事求是的科学态度，以及终身学习的能</tspan><tspan x="1889" dy="17">力，同时，要安排丰富多采的有利于学生发展</tspan><tspan x="1889" dy="17">的学生活动。在引导和组织学生进行探究性学</tspan><tspan x="1889" dy="17">习时应注意以下几点。</tspan></text></g>
<g id="b2-5c1"><rect class="lo" x="2184" y="2016" width="173" height="29" rx="5"/><text x="2191" y="2035">(1)为探究性学习创设情景。</text></g>
<g id="b2-5c2"><rect class="lo" x="2184" y="2073" width="275" height="63" rx="5"/><text x="2191" y="2092">(2)鼓励学生自己观察、思考、提问，并在提<tspan x="2191" dy="17">出假设的基础上进行探究性方案的设计和实施</tspan><tspan x="2191" dy="17">。不包办代替。</tspan></text></g>
<g id="b2-5c3"><rect class="lo" x="2184" y="2167" width="275" height="97" rx="5"/><text x="2191" y="2186">(3)注意课内外活动的结合。打破课堂内外的<tspan x="2191" dy="17">约束，有计划地安排需要较长时间才能完成的</tspan><tspan x="2191" dy="17">活动，包括必要的调查、访问、参观等，充分</tspan><tspan x="2191" dy="17">利用多种教学资源，引导学生分工合作，乐于</tspan><tspan x="2191" dy="17">交流。</tspan></text></g>
<g id="b2-5c4"><rect class="lo" x="2184" y="2292" width="275" height="80" rx="5"/><text x="2191" y="2311">(4)重视探究性报告的`撰写和交流。培养学生<tspan x="2191" dy="17">通过文字描述、数字表格、示意图、曲线图等</tspan><tspan x="2191" dy="17">方式完成报告，并组织交流探究的过程和结果</tspan><tspan x="2191" dy="17">。</tspan></text></g>
<g id="b2-5c5"><rect class="lo" x="2184" y="2402" width="275" height="46" rx="5"/><text x="2191" y="2421">(5)结合具体的教学内容，采用多种不同的教<tspan x="2191" dy="17">学策略和方法，达成课程目标。</tspan></text></g>
<g id="b2-5c6"><rect class="lo" x="2184" y="2478" width="275" height="46" rx="5"/><text x="2191" y="2497">(6)应尊重学生的人格，关注个体差异，满足<tspan x="2191" dy="17">学生不同的学习需要。</tspan></text></g>
<g id="b2-5d"><rect class="lo" x="1882" y="2553" width="276" height="63" rx="5"/><text x="1889" y="2572">3、激发学生学习兴趣，精心设计导语;运用生<tspan x="1889" dy="17">动的语言,加强情感教育;精心诱导、强化教学</tspan><tspan x="1889" dy="17">。</tspan></text></g>
<g id="b2-5e"><rect class="lo" x="1882" y="2644" width="276" height="131" rx="5"/><text x="1889" y="2663">4、对生物学困生，要真正了解他们对生物学<tspan x="1889" dy="17">习的态度，分析学习不好的原因，个别找来谈</tspan><tspan x="1889" dy="17">心，上课随时关注他们的反应，看他们是否参</tspan><tspan x="1889" dy="17">与到学习中，是否对生物有兴趣，鼓励他们多</tspan><tspan x="1889" dy="17">回答问题，对于他们的变化做好记录。课外走</tspan><tspan x="1889" dy="17">进他们的生活，带领他们去了解一些实际性的</tspan><tspan x="1889" dy="17">生物问题，从而激发他们的学习兴趣。</tspan></text></g>
<g id="b2-5f"><rect class="lo" x="1882" y="3060" width="276" height="46" rx="5"/><text x="1889" y="3079">5、制定复习计划，做好结业考复习工作，争<tspan x="1889" dy="17">取取得理想成绩。</tspan></text></g>
<g id="b2-5f1"><rect class="lo" x="2183" y="2805" width="91" height="29" rx="5"/><text x="2190" y="2824">周次授课内容</text></g>
<g id="b2-5f2"><rect class="lo" x="2183" y="2864" width="169" height="29" rx="5"/><text x="2190" y="2883">1----3绿色开花植物的一生</text></g>
<g id="b2-5f3"><rect class="lo" x="2183" y="2922" width="126" height="29" rx="5"/><text x="2190" y="2941">4动物的生殖和发育</text></g>
<g id="b2-5f4"><rect class="lo" x="2183" y="2981" width="126" height="29" rx="5"/><text x="2190" y="3000">5人类的生殖和发育</text></g>
<g id="b2-5f5"><rect class="lo" x="2183" y="3039" width="156" height="29" rx="5"/><text x="2190" y="3058">6----7生物的遗传和变异</text></g>
<g id="b2-5f6"><rect class="lo" x="2183" y="3097" width="126" height="29" rx="5"/><text x="2190" y="3116">8生命的起源和进化</text></g>
<g id="b2-5f7"><rect class="lo" x="2183" y="3156" width="126" height="29" rx="5"/><text x="2190" y="3175">9人类的起源和进化</text></g>
<g id="b2-5f8"><rect class="lo" x="2183" y="3331" width="121" height="29" rx="5"/><text x="2190" y="3350">10--11生物与环境</text></g>
<g id="b2-5f8a"><rect class="lo" x="2330" y="3214" width="90" height="29" rx="5"/><text x="2337" y="3233">复习期中考试</text></g>
<g id="b2-5f8b"><rect class="lo" x="2330" y="3273" width="162" height="29" rx="5"/><text x="2337" y="3292">12--13生物多样性及保护</text></g>
<g id="b2-5f8c"><rect class="lo" x="2330" y="3331" width="107" height="29" rx="5"/><text x="2337" y="3350">14--15生物技术</text></g>
<g id="b2-5f8d"><rect class="lo" x="2330" y="3390" width="175" height="29" rx="5"/><text x="2337" y="3409">16--20期末复习、期末考试</text></g>
<g id="b2-5f8e"><rect class="lo" x="2330" y="3448" width="172" height="29" rx="5"/><text x="2337" y="3467">余下时间复习，准备考试。</text></g>

<g id="b4"><rect x="1457" y="4235" width="270" height="38" rx="19" fill="#e5533d"/><text class="wt" x="1477" y="4260">八年级上册生物实验教学计划4</text></g>
<g id="b4-1"><rect class="lr" x="1752" y="3646" width="104" height="29" rx="5"/><text x="1759" y="3665">一、情况分析：</text></g>
<g id="b4-1a"><rect class="lr" x="1882" y="3566" width="127" height="29" rx="5"/><text x="1889" y="3585">(一)、学生情况分析</text></g>
<g id="b4-1a1"><rect class="lr" x="2034" y="3507" width="275" height="148" rx="5"/><text x="2041" y="3526">本届学生学习生物的兴趣很高，上学期生物的<tspan x="2041" dy="17">平均成绩整体成绩很理想，原因是爱学习的学</tspan><tspan x="2041" dy="17">生很多，因此，成绩很理想。这个学期要想办</tspan><tspan x="2041" dy="17">法使学生的成绩有更大的提高。我从调动学生</tspan><tspan x="2041" dy="17">学习兴趣上入手，来改善一向把生物视为副科</tspan><tspan x="2041" dy="17">，不好好学习、认真对待的学生心理，让他们</tspan><tspan x="2041" dy="17">在不知不觉中把注意力集中在生物课的学习上</tspan><tspan x="2041" dy="17">。</tspan></text></g>
<g id="b4-1b"><rect class="lr" x="1882" y="3727" width="101" height="29" rx="5"/><text x="1889" y="3746">(二)、教材分析</text></g>
<g id="b4-1b1"><rect class="lr" x="2008" y="3684" width="275" height="114" rx="5"/><text x="2015" y="3703">本学期教学内容介绍生物的生殖和发育、生物<tspan x="2015" dy="17">的遗传和变异及生物的进化、传染病和免疫，</tspan><tspan x="2015" dy="17">用药和急救、了解自己、增进健康。共6章，</tspan><tspan x="2015" dy="17">内容较上一个学期少了一些，探究实验减少了</tspan><tspan x="2015" dy="17">一些，增加了观察和思考，科学、社会、技术</tspan><tspan x="2015" dy="17">栏目。增加了学生的阅读量，扩大了知识面。</tspan></text></g>
<g id="b4-2"><rect class="lr" x="1752" y="4193" width="91" height="29" rx="5"/><text x="1759" y="4212">二、教学目标</text></g>
<g id="b4-2a"><rect class="lr" x="1869" y="3962" width="114" height="29" rx="5"/><text x="1876" y="3981">(一)、知识目标：</text></g>
<g id="b4-2a1"><rect class="lr" x="2008" y="3827" width="275" height="46" rx="5"/><text x="2015" y="3846">1、认识无性生殖的概念。2、描述植物的有<tspan x="2015" dy="17">性生殖过程。</tspan></text></g>
<g id="b4-2a2"><rect class="lr" x="2008" y="3902" width="275" height="63" rx="5"/><text x="2015" y="3921">3、说出花的结构与果实发育的过程。4、举<tspan x="2015" dy="17">例说出昆虫、两栖类动物、鸟的生殖和发育过</tspan><tspan x="2015" dy="17">程</tspan></text></g>
<g id="b4-2a3"><rect class="lr" x="2008" y="3995" width="275" height="46" rx="5"/><text x="2015" y="4014">5、说明DNA是主要的遗传物质。6、举例说<tspan x="2015" dy="17">出生物的性状是由基因控制的。</tspan></text></g>
<g id="b4-2a4"><rect class="lr" x="2008" y="4070" width="275" height="63" rx="5"/><text x="2015" y="4089">7、描述人的性染色体和常染色体。8、举例<tspan x="2015" dy="17">说出常见的遗传病的危害。9、举例说出发酵</tspan><tspan x="2015" dy="17">技术在生活中的应用等。</tspan></text></g>
<g id="b4-2b"><rect class="lr" x="1869" y="4205" width="114" height="29" rx="5"/><text x="1876" y="4224">(二)、能力目标：</text></g>
<g id="b4-2b1"><rect class="lr" x="2008" y="4162" width="275" height="114" rx="5"/><text x="2015" y="4181">1、培养学生观察能力和搜集信息的能力。2<tspan x="2015" dy="17">、培养学生探究性学习的能力，能从实践中获</tspan><tspan x="2015" dy="17">取资料。3、通过小组探究、收集资料、汇报</tspan><tspan x="2015" dy="17">探究结果等活动，提高学生探究学习的能力，</tspan><tspan x="2015" dy="17">合作交往的能力，收集、整理资料的能力和口</tspan><tspan x="2015" dy="17">头表达能力。</tspan></text></g>
<g id="b4-2c"><rect class="lr" x="1869" y="4424" width="192" height="29" rx="5"/><text x="1876" y="4443">(三)、情感态度与价值观目标：</text></g>
<g id="b4-2c1"><rect class="lr" x="2087" y="4306" width="275" height="46" rx="5"/><text x="2094" y="4325">1、全面提高学生的科学素养为宗旨，培养学<tspan x="2094" dy="17">生的创新精神和实践能力。</tspan></text></g>
<g id="b4-2c2"><rect class="lr" x="2087" y="4381" width="275" height="63" rx="5"/><text x="2094" y="4400">2、通过学习使学生更清楚地知道生物的生殖<tspan x="2094" dy="17">和发育，从而更有意识地保护生物，促进社会</tspan><tspan x="2094" dy="17">发展。</tspan></text></g>
<g id="b4-2c3"><rect class="lr" x="2087" y="4473" width="258" height="29" rx="5"/><text x="2094" y="4492">3、通过学习使学生知道如何健康地生活。</text></g>
<g id="b4-2c4"><rect class="lr" x="2087" y="4531" width="258" height="29" rx="5"/><text x="2094" y="4550">4、对学生进行唯物主义和爱国主义教育。</text></g>
<g id="b4-3"><rect class="lr" x="1752" y="4833" width="104" height="29" rx="5"/><text x="1759" y="4852">三、具体措施：</text></g>
<g id="b4-3a"><rect class="lr" x="1882" y="4590" width="276" height="46" rx="5"/><text x="1889" y="4609">1、精心采取先进的教学方法，对新教材进行<tspan x="1889" dy="17">培训。</tspan></text></g>
<g id="b4-3b"><rect class="lr" x="1882" y="4666" width="204" height="29" rx="5"/><text x="1889" y="4685">2、精心组织和策划好课堂教案。</text></g>
<g id="b4-3c"><rect class="lr" x="1882" y="4724" width="276" height="46" rx="5"/><text x="1889" y="4743">3、探索新的教学方法，做到课堂质量高效率<tspan x="1889" dy="17">。</tspan></text></g>
<g id="b4-3d"><rect class="lr" x="1882" y="4799" width="276" height="46" rx="5"/><text x="1889" y="4818">4、进行课外辅导和写小论文及做小制作，提<tspan x="1889" dy="17">高学生的兴趣。</tspan></text></g>
<g id="b4-3e"><rect class="lr" x="1882" y="4874" width="276" height="46" rx="5"/><text x="1889" y="4893">5、认真批改作业，从中解决学生存在的问题<tspan x="1889" dy="17">。</tspan></text></g>
<g id="b4-3f"><rect class="lr" x="1882" y="4950" width="276" height="80" rx="5"/><text x="1889" y="4969">6、培养学生良好的学习习惯。教育关键就是<tspan x="1889" dy="17">培养习惯，良好的学习习惯有助于学生稳步提</tspan><tspan x="1889" dy="17">高学习成绩，发展学生的非智力因素，弥补智</tspan><tspan x="1889" dy="17">力上的不足。</tspan></text></g>
<g id="b4-3g"><rect class="lr" x="1882" y="5058" width="276" height="46" rx="5"/><text x="1889" y="5077">7、开展课外兴趣小组。开展丰富多彩的课外<tspan x="1889" dy="17">活动，做课外调查，培养兴趣。</tspan></text></g>

<g id="b6"><rect x="1457" y="5382" width="325" height="60" rx="30" fill="#0e9be0"/><text class="wt" x="1489" y="5407">八年级上册生物实验教学计划相关<tspan x="1489" dy="22">文章：</tspan></text></g>
<g id="b6-1"><rect class="lb" x="1808" y="5135" width="242" height="29" rx="5"/><text x="1815" y="5154">★ 2021新学期八年级生物实验教学计划</text></g>
<g id="b6-2"><rect class="lb" x="1808" y="5193" width="258" height="29" rx="5"/><text x="1815" y="5212">★ 关于八年级上册生物教学计划与实施5篇</text></g>
<g id="b6-3"><rect class="lb" x="1808" y="5252" width="219" height="29" rx="5"/><text x="1815" y="5271">★ 关于生物人教版八上教学计划5篇</text></g>
<g id="b6-4"><rect class="lb" x="1808" y="5310" width="271" height="29" rx="5"/><text x="1815" y="5329">★ 八年级上生物个人教学计划和实施过程5篇</text></g>
<g id="b6-5"><rect class="lb" x="1808" y="5368" width="205" height="29" rx="5"/><text x="1815" y="5387">★ 人教版八年级生物教学计划5篇</text></g>
<g id="b6-6"><rect class="lb" x="1808" y="5427" width="219" height="29" rx="5"/><text x="1815" y="5446">★ 关于初二生物教学计划和发展5篇</text></g>
<g id="b6-7"><rect class="lb" x="1808" y="5485" width="205" height="29" rx="5"/><text x="1815" y="5504">★ 八年级生物学科网教学计划5篇</text></g>
<g id="b6-8"><rect class="lb" x="1808" y="5544" width="158" height="29" rx="5"/><text x="1815" y="5563">★ 有关初二生物教学计划</text></g>
<g id="b6-9"><rect class="lb" x="1808" y="5602" width="232" height="29" rx="5"/><text x="1815" y="5621">★ 苏教版八年级生物课程教学计划5篇</text></g>
<g id="b6-10"><rect class="lb" x="1808" y="5660" width="219" height="29" rx="5"/><text x="1815" y="5679">★ 新人教版八年级上册生物教案5篇</text></g>
</g>
</svg>
